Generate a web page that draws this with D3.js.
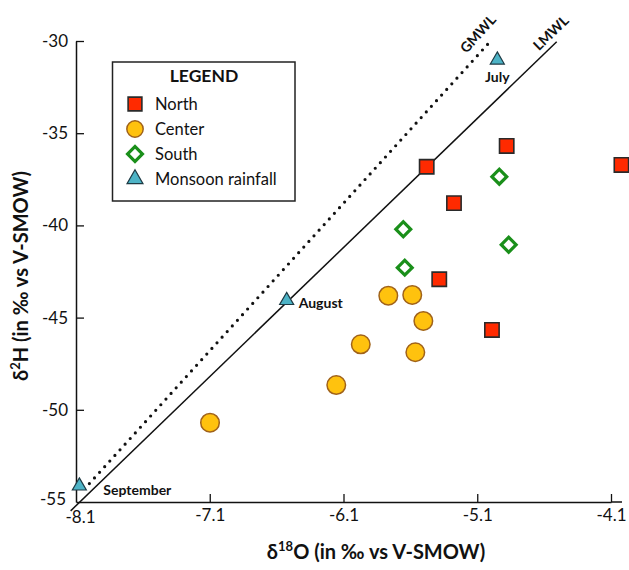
<!DOCTYPE html>
<html>
<head>
<meta charset="utf-8">
<script src="https://cdn.jsdelivr.net/npm/d3@7"></script>
<style>
  html, body { margin: 0; padding: 0; background: #fff; }
  svg { display: block; font-family: Lato, "Open Sans", sans-serif; }
</style>
</head>
<body>
<svg id="chart" width="629" height="570"></svg>
<script>
// ---- data (δ18O, δ2H) ----
const northX = [-5.478, -4.880, -5.274, -5.384, -4.990, -4.022];
const northY = [-36.82, -35.69, -38.79, -42.92, -45.67, -36.72];

const centerX = [-7.098, -6.154, -5.971, -5.765, -5.586, -5.503, -5.563];
const centerY = [-50.70, -48.66, -46.45, -43.81, -43.77, -45.18, -46.88];

const southX = [-4.935, -5.653, -5.642, -4.865];
const southY = [-37.36, -40.21, -42.29, -41.05];

const monsoonX = [-4.95, -6.525, -8.075];
const monsoonY = [-31.03, -44.07, -54.13];
const monsoonLabels = ["July", "August", "September"];

const xTicks = [-8.1, -7.1, -6.1, -5.1, -4.1];
const xTickLabels = ["-8.1", "-7.1", "-6.1", "-5.1", "-4.1"];
const yTicks = [-55, -50, -45, -40, -35, -30];
const yTickLabels = ["-55", "-50", "-45", "-40", "-35", "-30"];

// meteoric water lines: δ2H = slope * δ18O + intercept
const gmwl = { name: "GMWL", slope: 8, intercept: 10, x0: -8.0, x1: -5.02 };
const lmwl = { name: "LMWL", slope: 7, intercept: 1.5, x0: -8.14, x1: -4.506 };

const legendItems = ["North", "Center", "South", "Monsoon rainfall"];

// ---- chart ----
const svg = d3.select("#chart");
const x = d3.scaleLinear().domain([-8.1, -4.1]).range([76, 611]);
const y = d3.scaleLinear().domain([-55, -30]).range([502, 41]);

// axes
const xAxis = d3.axisBottom(x).tickValues(xTicks).tickFormat((d, i) => xTickLabels[i])
  .tickSizeInner(-8).tickSizeOuter(0).tickPadding(7);
const yAxis = d3.axisLeft(y).tickValues(yTicks).tickFormat((d, i) => yTickLabels[i])
  .tickSizeInner(-8).tickSizeOuter(0).tickPadding(8);

const gx = svg.append("g").attr("transform", `translate(0,${y(-55)})`).call(xAxis);
const gy = svg.append("g").attr("transform", `translate(${x(-8.1)},0)`).call(yAxis);
[gx, gy].forEach(g => {
  g.selectAll("path.domain").attr("stroke", "#111").attr("stroke-width", 1.5);
  g.selectAll(".tick line").attr("stroke", "#111").attr("stroke-width", 1.3);
  g.selectAll(".tick text").attr("fill", "#111").style("font-size", "17px")
    .style("font-family", "Lato, 'Open Sans', sans-serif");
});
// extend x axis slightly beyond last tick
svg.append("line").attr("x1", x(-4.1)).attr("x2", 622)
  .attr("y1", y(-55)).attr("y2", y(-55)).attr("stroke", "#111").attr("stroke-width", 1.5);
// corner tick handling
gx.selectAll(".tick").filter(d => d === -8.1).select("line").remove();
gx.selectAll(".tick").filter(d => d === -8.1).select("text").attr("x", 4).attr("dy", "0.85em");
gy.selectAll(".tick").filter(d => d === -55).select("line").remove();
gy.selectAll(".tick").filter(d => d === -55).select("text").attr("x", -10).attr("dy", "0.15em");

// axis titles
svg.append("text").attr("x", 376).attr("y", 559).attr("text-anchor", "middle")
  .style("font-size", "20px").style("font-weight", "bold").attr("fill", "#111")
  .html('δ<tspan baseline-shift="super" font-size="13px">18</tspan>O (in ‰ vs V-SMOW)');
svg.append("text").attr("transform", "translate(28,276) rotate(-90)").attr("text-anchor", "middle")
  .style("font-size", "20px").style("font-weight", "bold").attr("fill", "#111")
  .html('δ<tspan baseline-shift="super" font-size="13px">2</tspan>H (in ‰ vs V-SMOW)');

// water lines
function lineCoords(l) {
  return [[l.x0, l.slope * l.x0 + l.intercept], [l.x1, l.slope * l.x1 + l.intercept]];
}
const lineGen = d3.line().x(d => x(d[0])).y(d => y(d[1]));
svg.append("path").attr("d", lineGen(lineCoords(gmwl))).attr("fill", "none")
  .attr("stroke", "#111").attr("stroke-width", 3.2).attr("stroke-linecap", "round")
  .attr("stroke-dasharray", "0,7.6");
svg.append("path").attr("d", lineGen(lineCoords(lmwl))).attr("fill", "none")
  .attr("stroke", "#111").attr("stroke-width", 1.5);

function lineLabel(l, px, py) {
  const ang = -Math.atan(l.slope * (y(-55) - y(-54)) / (x(-7.1) - x(-8.1))) * 180 / Math.PI;
  svg.append("text").attr("transform", `translate(${px},${py}) rotate(${ang})`)
    .attr("text-anchor", "middle").attr("dy", "0.35em")
    .style("font-size", "14px").style("font-weight", "bold").attr("fill", "#111")
    .text(l.name);
}
lineLabel(gmwl, 478, 34);
lineLabel(lmwl, 551, 33);

// markers
const north = northX.map((v, i) => [v, northY[i]]);
const center = centerX.map((v, i) => [v, centerY[i]]);
const south = southX.map((v, i) => [v, southY[i]]);
const monsoon = monsoonX.map((v, i) => [v, monsoonY[i], monsoonLabels[i]]);

const symSquare = d3.symbol().type(d3.symbolSquare).size(205);
const symCircle = d3.symbol().type(d3.symbolCircle).size(270);
const symDiamond = d3.symbol().type(d3.symbolSquare).size(110);
const symTri = d3.symbol().type(d3.symbolTriangle).size(85);

const styles = {
  North: s => s.attr("d", symSquare()).attr("fill", "#ff2a00").attr("stroke", "#2a2a2a").attr("stroke-width", 1.6),
  Center: s => s.attr("d", symCircle()).attr("fill", "#ffc20e").attr("stroke", "#a0621a").attr("stroke-width", 1.5),
  South: s => s.attr("d", symDiamond()).attr("fill", "#fff").attr("stroke", "#1a8f1a").attr("stroke-width", 3.2),
  "Monsoon rainfall": s => s.attr("d", symTri()).attr("fill", "#4db3c6").attr("stroke", "#1e3a44").attr("stroke-width", 1.2)
};
function rotFor(name) { return name === "South" ? " rotate(45)" : ""; }

function plot(data, name) {
  svg.append("g").selectAll("path").data(data).join("path")
    .attr("transform", d => `translate(${x(d[0])},${y(d[1])})${rotFor(name)}`)
    .call(styles[name]);
}
plot(center, "Center");
plot(south, "South");
plot(north, "North");
plot(monsoon, "Monsoon rainfall");

// month labels
const monthPos = {
  July: { dx: 0, dy: 17, anchor: "middle" },
  August: { dx: 12, dy: 3, anchor: "start" },
  September: { dx: 24, dy: 4, anchor: "start" }
};
svg.append("g").selectAll("text").data(monsoon).join("text")
  .attr("x", d => x(d[0]) + monthPos[d[2]].dx)
  .attr("y", d => y(d[1]) + monthPos[d[2]].dy)
  .attr("text-anchor", d => monthPos[d[2]].anchor)
  .attr("dy", "0.35em")
  .style("font-size", "14px").style("font-weight", "bold").attr("fill", "#111")
  .text(d => d[2]);

// legend
const lg = svg.append("g");
lg.append("rect").attr("x", 112.5).attr("y", 62).attr("width", 182.5).attr("height", 139)
  .attr("fill", "#fff").attr("stroke", "#222").attr("stroke-width", 1.5);
lg.append("text").attr("x", 204).attr("y", 76).attr("dy", "0.35em").attr("text-anchor", "middle")
  .style("font-size", "17.5px").style("font-weight", "bold").attr("fill", "#111").text("LEGEND");
const lgi = lg.selectAll("g.item").data(legendItems).join("g").attr("class", "item")
  .attr("transform", (d, i) => `translate(135,${104 + i * 25})`);
lgi.append("path").each(function (d) {
  const s = d3.select(this);
  styles[d](s);
  if (d === "South") s.attr("transform", "rotate(45)");
  if (d === "Monsoon rainfall") s.attr("d", d3.symbol().type(d3.symbolTriangle).size(110)());
  if (d === "Center") s.attr("d", d3.symbol().type(d3.symbolCircle).size(210)());
  if (d === "North") s.attr("d", d3.symbol().type(d3.symbolSquare).size(190)());
});
lgi.append("text").attr("x", 20).attr("dy", "0.35em")
  .style("font-size", "16.5px").attr("fill", "#111").text(d => d);
</script>
</body>
</html>
